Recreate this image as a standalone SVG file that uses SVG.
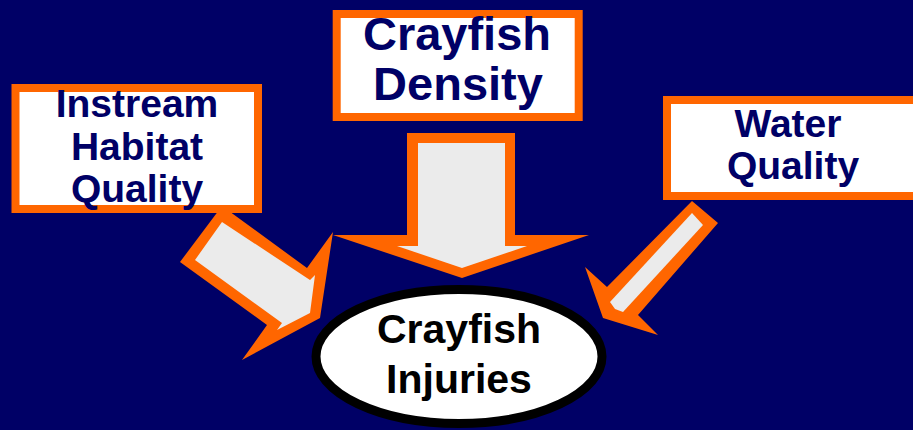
<svg xmlns="http://www.w3.org/2000/svg" width="913" height="430" viewBox="0 0 913 430">
<style>
.box{fill:#FFFFFF;stroke:#FF6600;stroke-width:8}
.out{fill:#FF6600}
.in{fill:#EBEBEB}
.t{font-family:"Liberation Sans",Arial,sans-serif;font-weight:bold;fill:#000066;text-anchor:middle}
.tb{font-family:"Liberation Sans",Arial,sans-serif;font-weight:bold;fill:#000000;text-anchor:middle}
</style>
<rect width="913" height="430" fill="#000066"/>
<g id="connectors">
  <g id="arrow-habitat">
    <polygon class="out" points="222,206 307,268 333,232 320,318 242,360 267,325 180,262"/>
    <polygon class="in" points="222,222 310,280 315,275 310,313 277,330 282,323 195,260"/>
  </g>
  <g id="arrow-density">
    <polygon class="out" points="407,133 515,133 515,235 589,235 462,278 333,235 407,235"/>
    <polygon class="in" points="418,143 505,143 505,246 527,246 462,268 397,246 418,246"/>
  </g>
  <g id="arrow-water">
    <polygon class="out" points="692,201 718,223 638,315 658,335 603,318 585,267 607,287"/>
    <polygon class="in" points="692,213 703,225 623,312 615,309 610,302"/>
  </g>
</g>
<g id="node-habitat">
  <rect class="box" x="15.5" y="88" width="242.5" height="121"/>
  <text class="t" font-size="39"><tspan x="137" y="117">Instream</tspan><tspan x="137" y="160">Habitat</tspan><tspan x="137" y="202">Quality</tspan></text>
</g>
<g id="node-density">
  <rect class="box" x="336.7" y="14" width="242" height="103"/>
  <text class="t" font-size="47"><tspan x="457" y="50">Crayfish</tspan><tspan x="458" y="100">Density</tspan></text>
</g>
<g id="node-water">
  <rect class="box" x="667" y="100" width="260" height="96"/>
  <text class="t" font-size="39"><tspan x="788" y="137">Water</tspan><tspan x="793" y="179">Quality</tspan></text>
</g>
<g id="node-injuries">
  <ellipse cx="459" cy="356.5" rx="143" ry="67" fill="#FFFFFF" stroke="#000000" stroke-width="9"/>
  <text class="tb" font-size="41"><tspan x="459" y="343">Crayfish</tspan><tspan x="459" y="393">Injuries</tspan></text>
</g>
</svg>
